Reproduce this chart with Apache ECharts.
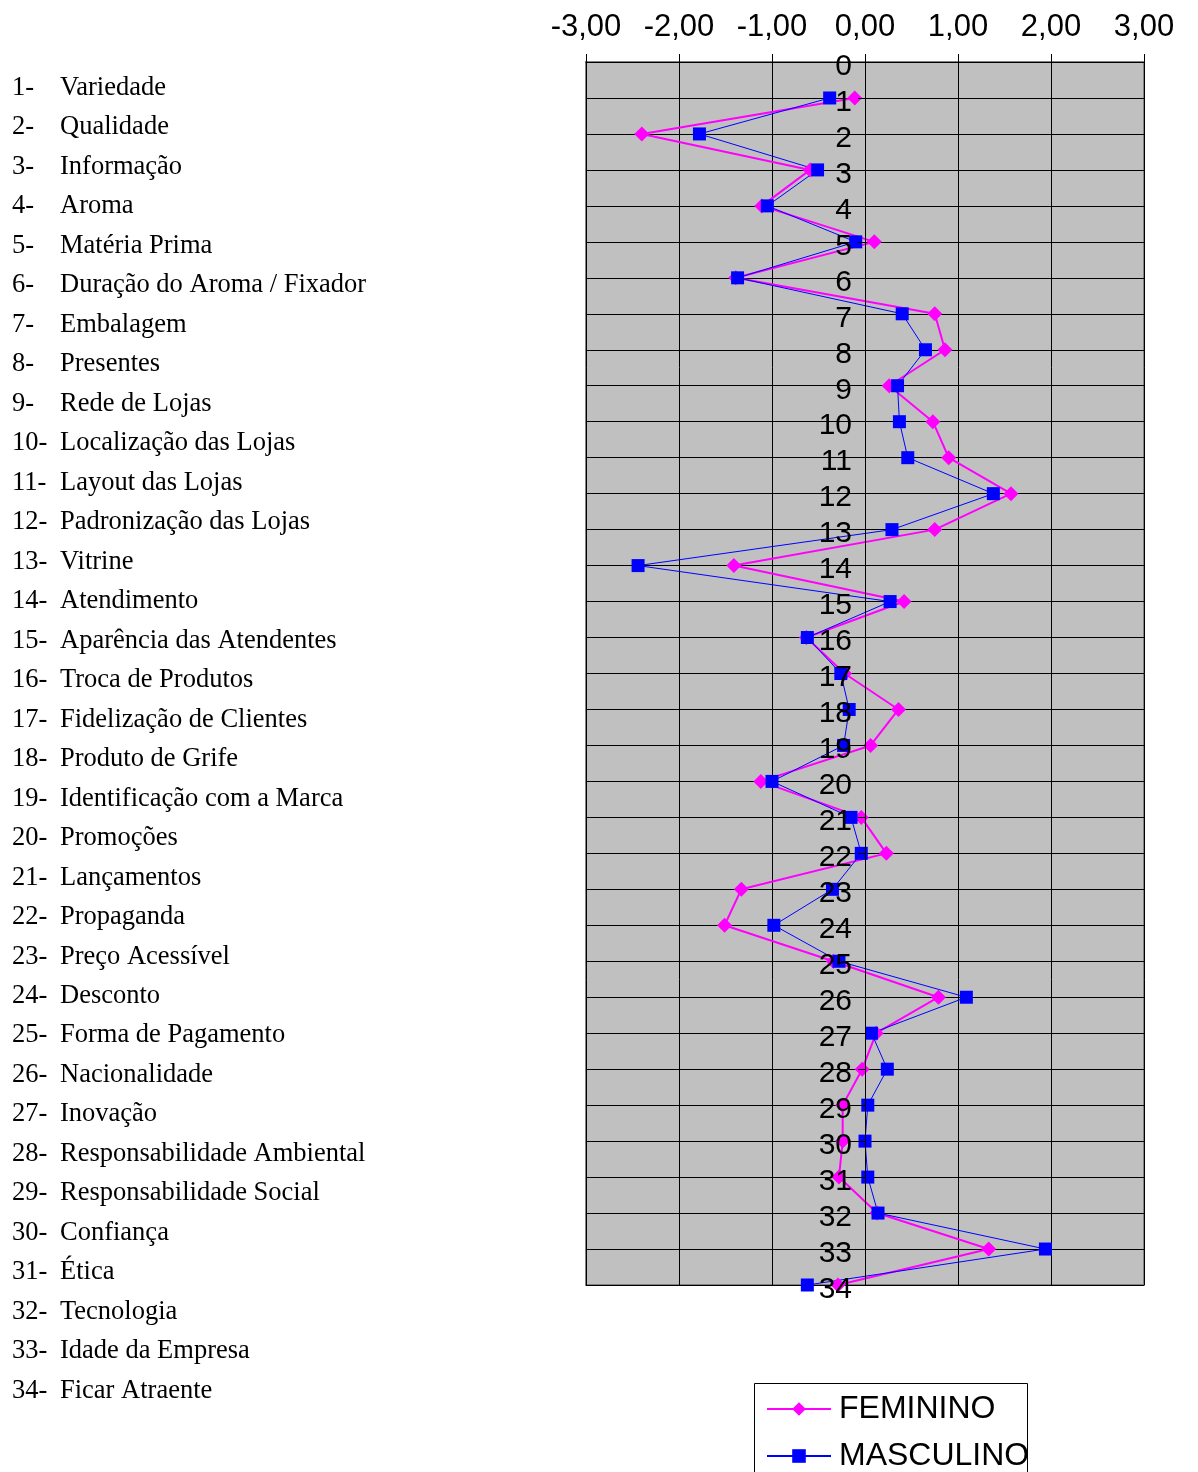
<!DOCTYPE html>
<html>
<head>
<meta charset="utf-8">
<script src="https://cdn.jsdelivr.net/npm/echarts@6/dist/echarts.min.js"></script>
<style>
  html, body { margin: 0; padding: 0; background: #fff; }
</style>
</head>
<body>
<div id="main" style="width:1198px;height:1472px;"></div>
<script>
// atributos (lista à esquerda)
var itemNames = [
  'Variedade', 'Qualidade', 'Informação', 'Aroma', 'Matéria Prima',
  'Duração do Aroma / Fixador', 'Embalagem', 'Presentes', 'Rede de Lojas',
  'Localização das Lojas', 'Layout das Lojas', 'Padronização das Lojas',
  'Vitrine', 'Atendimento', 'Aparência das Atendentes', 'Troca de Produtos',
  'Fidelização de Clientes', 'Produto de Grife', 'Identificação com a Marca',
  'Promoções', 'Lançamentos', 'Propaganda', 'Preço Acessível', 'Desconto',
  'Forma de Pagamento', 'Nacionalidade', 'Inovação', 'Responsabilidade Ambiental',
  'Responsabilidade Social', 'Confiança', 'Ética', 'Tecnologia',
  'Idade da Empresa', 'Ficar Atraente'
];

var feminino = [
  -0.11, -2.40, -0.59, -1.11, 0.10, -1.39, 0.75, 0.86, 0.26, 0.73,
  0.90, 1.57, 0.75, -1.41, 0.42, -0.63, -0.22, 0.36, 0.06, -1.12,
  -0.04, 0.23, -1.33, -1.51, -0.34, 0.79, 0.12, -0.03, -0.24, -0.24,
  -0.28, 0.13, 1.33, -0.29
];

var masculino = [
  -0.38, -1.78, -0.51, -1.05, -0.10, -1.37, 0.40, 0.65, 0.35, 0.37,
  0.46, 1.38, 0.29, -2.44, 0.27, -0.62, -0.26, -0.17, -0.23, -1.00,
  -0.15, -0.04, -0.35, -0.98, -0.28, 1.09, 0.07, 0.24, 0.03, 0.00,
  0.03, 0.14, 1.94, -0.62
];

var seriesNames = ['FEMININO', 'MASCULINO'];

var myChart = echarts.init(document.getElementById('main'));

// textos da lista à esquerda + moldura da legenda
var graphics = [{
  type: 'rect',
  shape: { x: 754.5, y: 1383.5, width: 273, height: 120 },
  style: { fill: '#fff', stroke: '#000', lineWidth: 1 },
  z: -1
}];
itemNames.forEach(function (name, i) {
  var y = 88 + i * 39.48;
  graphics.push({
    type: 'text', x: 12, y: y,
    style: { text: (i + 1) + '-', font: '26.5px "Liberation Serif"', fill: '#000', verticalAlign: 'middle' }
  });
  graphics.push({
    type: 'text', x: 60, y: y,
    style: { text: name, font: '26.5px "Liberation Serif"', fill: '#000', verticalAlign: 'middle' }
  });
});

var legendBase = {
  orient: 'vertical',
  left: 766,
  padding: 0,
  itemWidth: 64, itemHeight: 17,
  textStyle: { fontSize: 32, color: '#000', lineHeight: 36, padding: [0, 0, 0, 3] }
};

// grid: 586..1144 => 93 px por unidade, zero em 865
var option = {
  backgroundColor: '#fff',
  animation: false,
  textStyle: { fontFamily: 'Liberation Sans' },
  grid: {
    left: 586, top: 62, right: 54, bottom: 187,
    show: true,
    backgroundColor: '#c0c0c0',
    borderColor: '#808080',
    borderWidth: 2
  },
  xAxis: {
    type: 'value',
    position: 'top',
    min: -3, max: 3, interval: 1,
    axisLine: { show: true, onZero: false, lineStyle: { color: '#000', width: 1 } },
    axisTick: { show: true, inside: false, length: 8, lineStyle: { color: '#000' } },
    axisLabel: {
      fontSize: 31, color: '#000', margin: 19,
      formatter: function (v) { return v.toFixed(2).replace('.', ','); }
    },
    splitLine: { show: true, lineStyle: { color: '#000', width: 1 } }
  },
  yAxis: [
    {
      // linhas de grade
      type: 'value',
      inverse: true,
      min: 0, max: 34, interval: 1,
      axisLine: { show: false },
      axisTick: { show: false },
      axisLabel: { show: false },
      splitLine: { show: true, lineStyle: { color: '#000', width: 1 } }
    },
    {
      // eixo no zero, rótulos por cima das séries
      type: 'value',
      position: 'left',
      offset: -279,
      inverse: true,
      min: 0, max: 34, interval: 1,
      z: 10,
      axisLine: { show: true, onZero: false, lineStyle: { color: '#000', width: 1 } },
      axisTick: { show: true, inside: false, length: 7, lineStyle: { color: '#000' } },
      axisLabel: { fontSize: 30, color: '#000', margin: 13, verticalAlign: 'top', lineHeight: 9 },
      splitLine: { show: false }
    }
  ],
  legend: [
    Object.assign({ top: 1391, data: [seriesNames[0]] }, legendBase),
    Object.assign({ top: 1438, data: [seriesNames[1]] }, legendBase)
  ],
  graphic: graphics,
  series: [
    {
      name: seriesNames[0],
      type: 'line',
      yAxisIndex: 0,
      data: feminino.map(function (v, i) { return [v, i + 1]; }),
      symbol: 'diamond', symbolSize: 15,
      lineStyle: { color: '#ff00ff', width: 2 },
      itemStyle: { color: '#ff00ff' }
    },
    {
      name: seriesNames[1],
      type: 'line',
      yAxisIndex: 0,
      data: masculino.map(function (v, i) { return [v, i + 1]; }),
      symbol: 'rect', symbolSize: 13,
      lineStyle: { color: '#0000ff', width: 1 },
      itemStyle: { color: '#0000ff' }
    }
  ]
};

myChart.setOption(option);
</script>
</body>
</html>
